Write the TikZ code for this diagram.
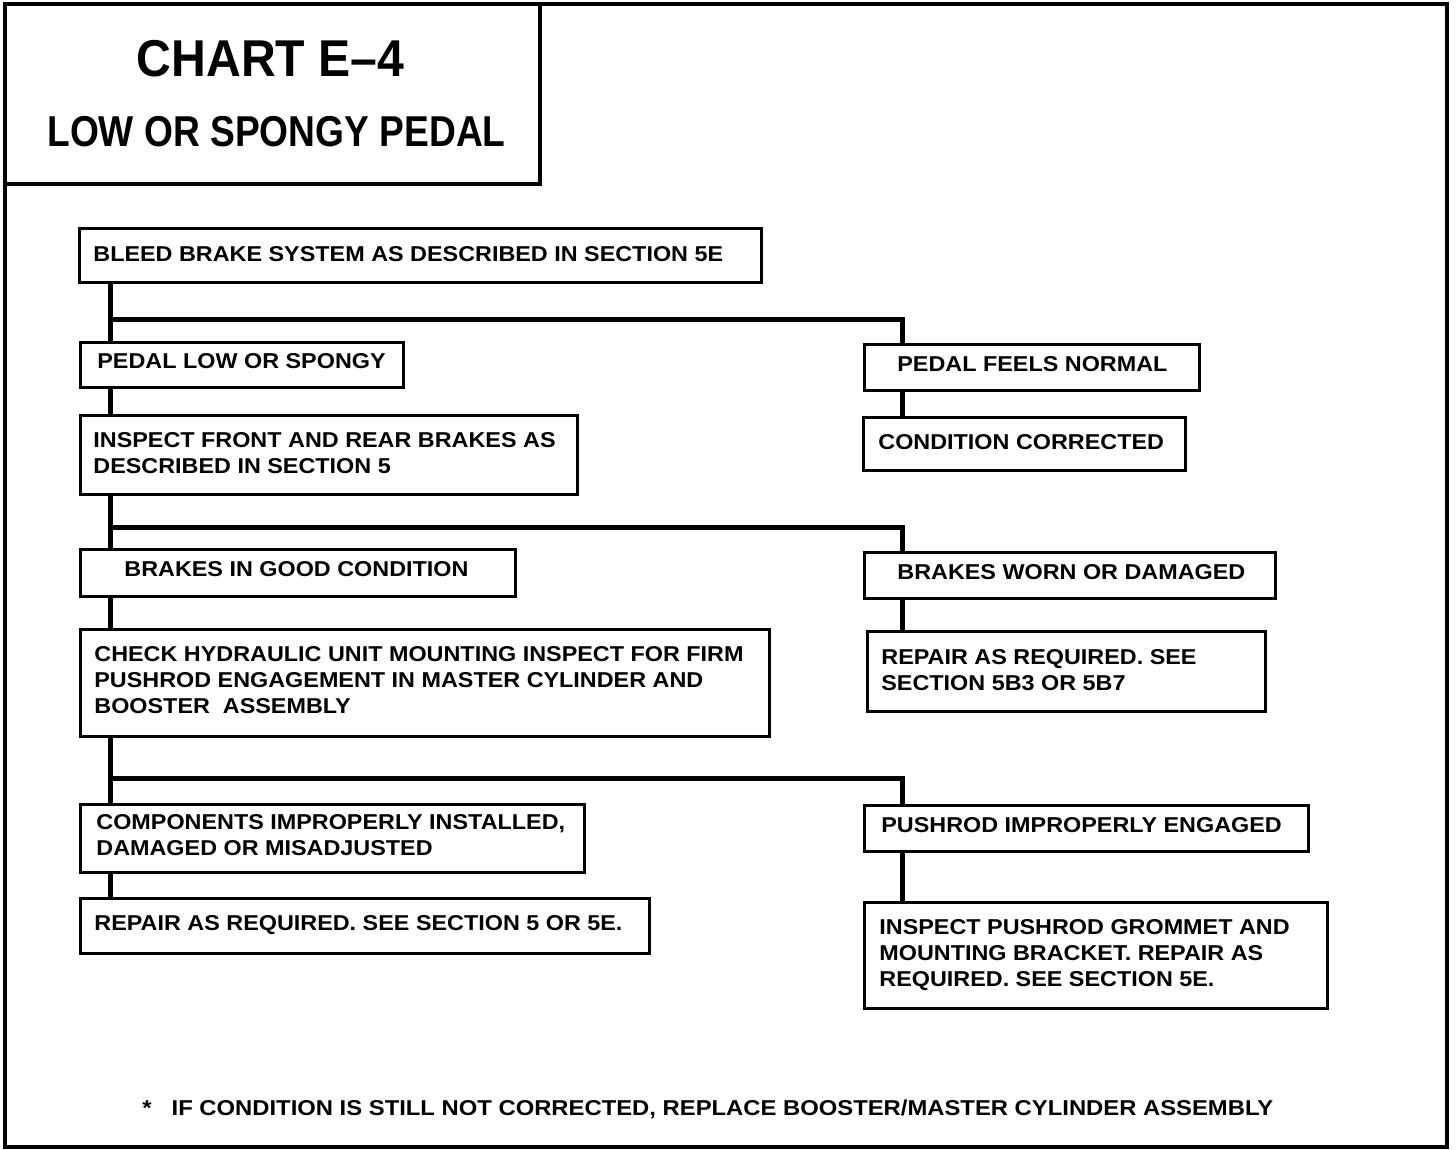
\documentclass[tikz,border=0pt]{standalone}
\usepackage{fontspec}
\usetikzlibrary{calc}
\newfontfamily\boxfont{Liberation Sans}[FakeStretch=1.087]
\newfontfamily\footfont{Liberation Sans}[FakeStretch=1.108]
\newfontfamily\titlefontA{Liberation Sans}[FakeStretch=0.93]
\newfontfamily\titlefontB{Liberation Sans}[FakeStretch=0.86]
\tikzset{
  box/.style={draw=black, line width=1.5pt, rectangle, inner sep=0pt, outer sep=0pt, anchor=north west},
  txt/.style={font=\boxfont\bfseries\fontsize{10.75}{13}\selectfont, align=left, inner sep=0pt, anchor=west},
  foottxt/.style={font=\footfont\bfseries\fontsize{10.75}{13}\selectfont, inner sep=0pt, anchor=west},
  conn/.style={draw=black, line width=2.5pt},
  frame/.style={draw=black, line width=2.2pt}
}
\begin{document}
\begin{tikzpicture}[x=0.5pt,y=-0.5pt]
\useasboundingbox (0,0) rectangle (1456,1150);
% outer frame and title box
\draw[frame] (5,4) rectangle (1447,1147);
\draw[frame] (5,4) rectangle (540,184);
\node[font=\titlefontA\bfseries\fontsize{25.9}{30}\selectfont, inner sep=0pt] (title) at (270.5,58.5) {CHART E–4};
\node[font=\titlefontB\bfseries\fontsize{21.6}{26}\selectfont, inner sep=0pt] (subtitle) at (276.5,131.5) {LOW OR SPONGY PEDAL};
% trunk coordinates
\coordinate (L) at (110,0);
\coordinate (R) at (902,0);
% boxes
\node[box, minimum width=341pt, minimum height=27pt] (b1) at (79,229) {};
\node[box, minimum width=161.5pt, minimum height=22.5pt] (b2) at (80,342) {};
\node[box, minimum width=167.5pt, minimum height=23pt] (b3) at (864,344) {};
\node[box, minimum width=161pt, minimum height=26.5pt] (b4) at (863,417) {};
\node[box, minimum width=248.5pt, minimum height=39.5pt] (b5) at (80,415) {};
\node[box, minimum width=217.5pt, minimum height=23.5pt] (b6) at (80,549) {};
\node[box, minimum width=205.5pt, minimum height=23pt] (b7) at (864,552) {};
\node[box, minimum width=199pt, minimum height=40pt] (b8) at (867,631) {};
\node[box, minimum width=344.5pt, minimum height=53.5pt] (b9) at (80,629) {};
\node[box, minimum width=252pt, minimum height=34pt] (b10) at (80,804) {};
\node[box, minimum width=222pt, minimum height=23pt] (b11) at (864,805) {};
\node[box, minimum width=284.5pt, minimum height=27.5pt] (b12) at (80,898) {};
\node[box, minimum width=231.5pt, minimum height=53pt] (b13) at (864,902) {};
% texts
\node[txt] (t1) at ($(b1.west)+(14,-2)$) {BLEED BRAKE SYSTEM AS DESCRIBED IN SECTION 5E};
\node[txt] (t2) at ($(b2.west)+(17,-3)$) {PEDAL LOW OR SPONGY};
\node[txt] (t3) at ($(b3.west)+(33,-3)$) {PEDAL FEELS NORMAL};
\node[txt] (t4) at ($(b4.west)+(15,-1)$) {CONDITION CORRECTED};
\node[txt] (t5) at ($(b5.west)+(13,-1)$) {INSPECT FRONT AND REAR BRAKES AS\\DESCRIBED IN SECTION 5};
\node[txt] (t6) at ($(b6.west)+(44,-3)$) {BRAKES IN GOOD CONDITION};
\node[txt] (t7) at ($(b7.west)+(33,-3)$) {BRAKES WORN OR DAMAGED};
\node[txt] (t8) at ($(b8.west)+(14,-1)$) {REPAIR AS REQUIRED. SEE\\SECTION 5B3 OR 5B7};
\node[txt] (t9) at ($(b9.west)+(14,-2)$) {CHECK HYDRAULIC UNIT MOUNTING INSPECT FOR FIRM\\PUSHROD ENGAGEMENT IN MASTER CYLINDER AND\\BOOSTER\ \ ASSEMBLY};
\node[txt] (t10) at ($(b10.west)+(16,-3)$) {COMPONENTS IMPROPERLY INSTALLED,\\DAMAGED OR MISADJUSTED};
\node[txt] (t11) at ($(b11.west)+(17,-3)$) {PUSHROD IMPROPERLY ENGAGED};
\node[txt] (t12) at ($(b12.west)+(14,0)$) {REPAIR AS REQUIRED. SEE SECTION 5 OR 5E.};
\node[txt] (t13) at ($(b13.west)+(15,0)$) {INSPECT PUSHROD GROMMET AND\\MOUNTING BRACKET. REPAIR AS\\REQUIRED. SEE SECTION 5E.};
% footnote
\node[foottxt] (foot) at (142,1109) {*\hspace{10pt}IF CONDITION IS STILL NOT CORRECTED, REPLACE BOOSTER/MASTER CYLINDER ASSEMBLY};
% junctions
\coordinate (j1) at (110,319);
\coordinate (j2) at (110,527);
\coordinate (j3) at (110,778);
% connectors
\draw[conn] (b1.south -| L) -- (b2.north -| L);
\draw[conn] (j1) -| (b3.north -| R);
\draw[conn] (b3.south -| R) -- (b4.north -| R);
\draw[conn] (b2.south -| L) -- (b5.north -| L);
\draw[conn] (b5.south -| L) -- (b6.north -| L);
\draw[conn] (j2) -| (b7.north -| R);
\draw[conn] (b7.south -| R) -- (b8.north -| R);
\draw[conn] (b6.south -| L) -- (b9.north -| L);
\draw[conn] (b9.south -| L) -- (b10.north -| L);
\draw[conn] (j3) -| (b11.north -| R);
\draw[conn] (b10.south -| L) -- (b12.north -| L);
\draw[conn] (b11.south -| R) -- (b13.north -| R);
\end{tikzpicture}
\end{document}
